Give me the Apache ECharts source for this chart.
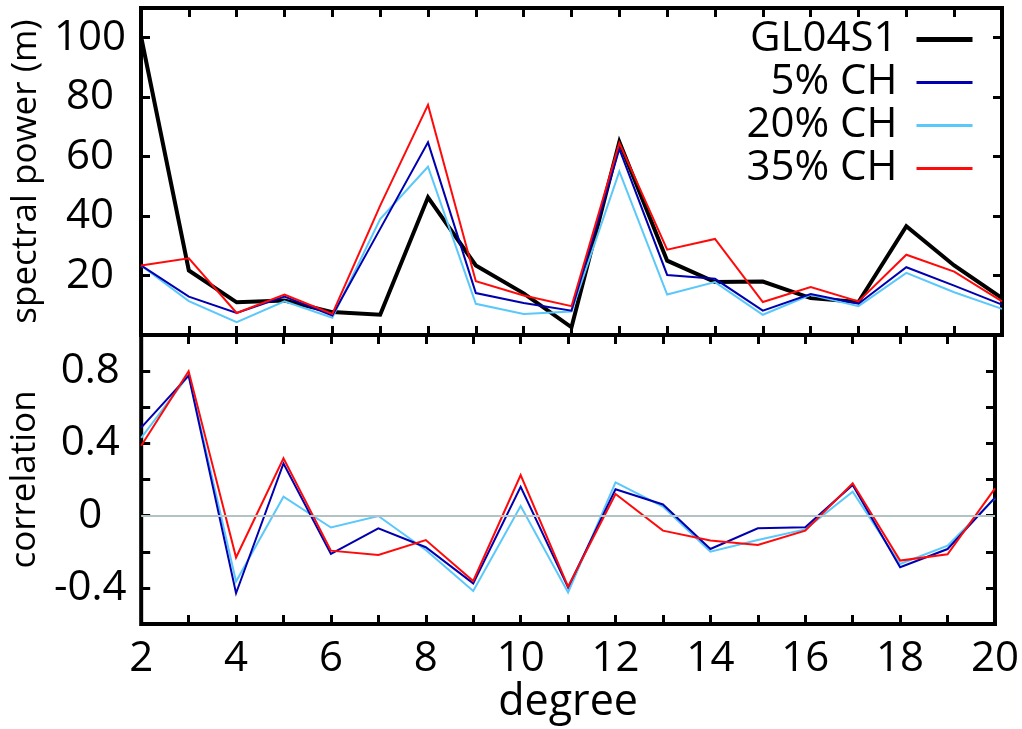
<!DOCTYPE html>
<html>
<head>
<meta charset="utf-8">
<script src="https://cdn.jsdelivr.net/npm/echarts@6/dist/echarts.min.js"></script>
<style>
  html, body { margin: 0; padding: 0; background: #fff; }
  #chart { width: 1022px; height: 729px; }
</style>
</head>
<body>
<div id="chart"></div>
<script>
// spherical-harmonic degrees
const degrees = [2, 3, 4, 5, 6, 7, 8, 9, 10, 11, 12, 13, 14, 15, 16, 17, 18, 19, 20];

// spectral power (m) per degree
const powerGL04S1 = [100.5, 21.7, 11.0, 11.6, 7.7, 6.8, 46.3, 23.4, 14.0, 2.6, 65.0, 25.0, 17.8, 18.0, 12.4, 11.1, 36.6, 23.4, 12.4];
const power5CH  = [23.4, 12.9, 7.4, 12.9, 6.6, 35.7, 64.8, 14.1, 10.8, 8.2, 62.6, 20.2, 18.9, 8.2, 13.8, 10.5, 22.8, 16.6, 10.2];
const power20CH = [23.4, 11.4, 4.3, 11.3, 5.8, 39.0, 56.6, 10.5, 7.1, 7.9, 55.0, 13.6, 17.8, 6.8, 13.5, 9.7, 20.9, 14.4, 8.8];
const power35CH = [23.4, 25.8, 7.4, 13.6, 7.1, 43.5, 77.4, 18.1, 13.3, 9.7, 64.6, 28.7, 32.3, 11.1, 16.1, 11.3, 27.0, 21.3, 11.3];

// correlation with GL04S1 per degree
const corr5CH  = [0.487, 0.775, -0.43, 0.289, -0.212, -0.07, -0.175, -0.375, 0.16, -0.398, 0.146, 0.062, -0.185, -0.07, -0.065, 0.17, -0.286, -0.185, 0.10];
const corr20CH = [0.43, 0.778, -0.365, 0.105, -0.066, -0.002, -0.19, -0.417, 0.053, -0.425, 0.184, 0.05, -0.20, -0.135, -0.076, 0.133, -0.268, -0.166, 0.096];
const corr35CH = [0.387, 0.80, -0.232, 0.317, -0.194, -0.218, -0.135, -0.362, 0.225, -0.393, 0.12, -0.083, -0.138, -0.162, -0.083, 0.179, -0.249, -0.214, 0.151];

// labelled ticks
const degreeLabels = [2, 4, 6, 8, 10, 12, 14, 16, 18, 20];
const powerLabels = [20, 40, 60, 80, 100];
const corrLabels = [-0.4, 0, 0.4, 0.8];

const names = ['GL04S1', '5% CH', '20% CH', '35% CH'];
const colors = { 'GL04S1': '#000000', '5% CH': '#0000b0', '20% CH': '#5ac8fa', '35% CH': '#ff0a0a' };

const FONT = '"Open Sans", "DejaVu Sans", sans-serif';

const pairs = (ys) => degrees.map((d, i) => [d, ys[i]]);
const near = (v, list) => list.some(t => Math.abs(t - v) < 1e-6);

const tick = { show: true, inside: true, length: 9, lineStyle: { color: '#000', width: 3 } };

function xAxis(grid, pos, labels) {
  return {
    type: 'value', gridIndex: grid, position: pos, min: 2, max: 20, interval: 1,
    axisLine: { show: false, onZero: false }, axisTick: tick, splitLine: { show: false },
    axisLabel: labels ? {
      show: true, margin: 14, fontSize: 42, color: '#000', fontFamily: FONT,
      formatter: v => near(v, degreeLabels) ? String(v) : ''
    } : { show: false }
  };
}

function yAxis(grid, pos, min, max, interval, labels, fmt) {
  return {
    type: 'value', gridIndex: grid, position: pos, min: min, max: max, interval: interval,
    axisLine: { show: false, onZero: false }, axisTick: tick, splitLine: { show: false },
    axisLabel: labels ? {
      show: true, margin: 51, align: 'center', fontSize: 42, color: '#000', fontFamily: FONT,
      formatter: v => near(v, labels) ? fmt(v) : ''
    } : { show: false }
  };
}

const axisNameStyle = { fontSize: 35, color: '#000', fontFamily: FONT };

const xAxes = [
  xAxis(0, 'bottom', false),
  xAxis(0, 'top', false),
  Object.assign(xAxis(1, 'bottom', true), {
    name: 'degree', nameLocation: 'middle', nameGap: 56,
    nameTextStyle: { fontSize: 43, color: '#000', fontFamily: FONT }
  }),
  xAxis(1, 'top', false)
];

const yAxes = [
  Object.assign(yAxis(0, 'left', 0, 110, 20, powerLabels, v => String(v)), {
    name: 'spectral power (m)', nameLocation: 'middle', nameGap: 90, nameRotate: 90,
    nameTextStyle: axisNameStyle
  }),
  yAxis(0, 'right', 0, 110, 20, null),
  Object.assign(yAxis(1, 'left', -0.6, 1.0, 0.2, corrLabels, v => String(Math.round(v * 10) / 10)), {
    name: 'correlation', nameLocation: 'middle', nameGap: 90, nameRotate: 90,
    nameTextStyle: axisNameStyle
  }),
  yAxis(1, 'right', -0.6, 1.0, 0.2, null)
];

function line(name, ys, xi, yi, width) {
  return {
    name: name, type: 'line', xAxisIndex: xi, yAxisIndex: yi,
    data: pairs(ys), showSymbol: false, symbol: 'none', silent: true,
    lineStyle: { color: colors[name], width: width, join: 'miter' },
    itemStyle: { color: colors[name] },
    z: 3
  };
}

const series = [
  // zero reference in the correlation panel
  {
    name: 'zero', type: 'line', xAxisIndex: 2, yAxisIndex: 2, data: [], z: 1, silent: true,
    markLine: {
      silent: true, symbol: 'none', label: { show: false }, animation: false,
      lineStyle: { color: '#b3c2c2', width: 2, type: 'solid' },
      data: [{ yAxis: 0 }]
    }
  },
  line('GL04S1', powerGL04S1, 0, 0, 4),
  line('20% CH', power20CH, 0, 0, 2),
  line('5% CH', power5CH, 0, 0, 2),
  line('35% CH', power35CH, 0, 0, 2),
  line('20% CH', corr20CH, 2, 2, 2),
  line('5% CH', corr5CH, 2, 2, 2),
  line('35% CH', corr35CH, 2, 2, 2)
];

const chart = echarts.init(document.getElementById('chart'), null, { renderer: 'canvas' });
chart.setOption({
  animation: false,
  backgroundColor: '#fff',
  grid: [
    { left: 141, right: 20, top: 8, height: 327, show: true, borderColor: '#000', borderWidth: 4, backgroundColor: 'transparent' },
    { left: 141, right: 20, top: 335, height: 289, show: true, borderColor: '#000', borderWidth: 4, backgroundColor: 'transparent' }
  ],
  legend: {
    data: names.map(n => ({ name: n, itemStyle: { opacity: 0 }, lineStyle: { width: n === 'GL04S1' ? 5 : 3 } })),
    orient: 'vertical', align: 'right', right: 42, top: 13,
    itemWidth: 56, itemHeight: 6, itemGap: 0,
    textStyle: { fontSize: 42, lineHeight: 43, color: '#000', fontFamily: FONT, padding: [0, 14, 0, 0] },
    selectedMode: false
  },
  xAxis: xAxes,
  yAxis: yAxes,
  series: series
});
</script>
</body>
</html>
